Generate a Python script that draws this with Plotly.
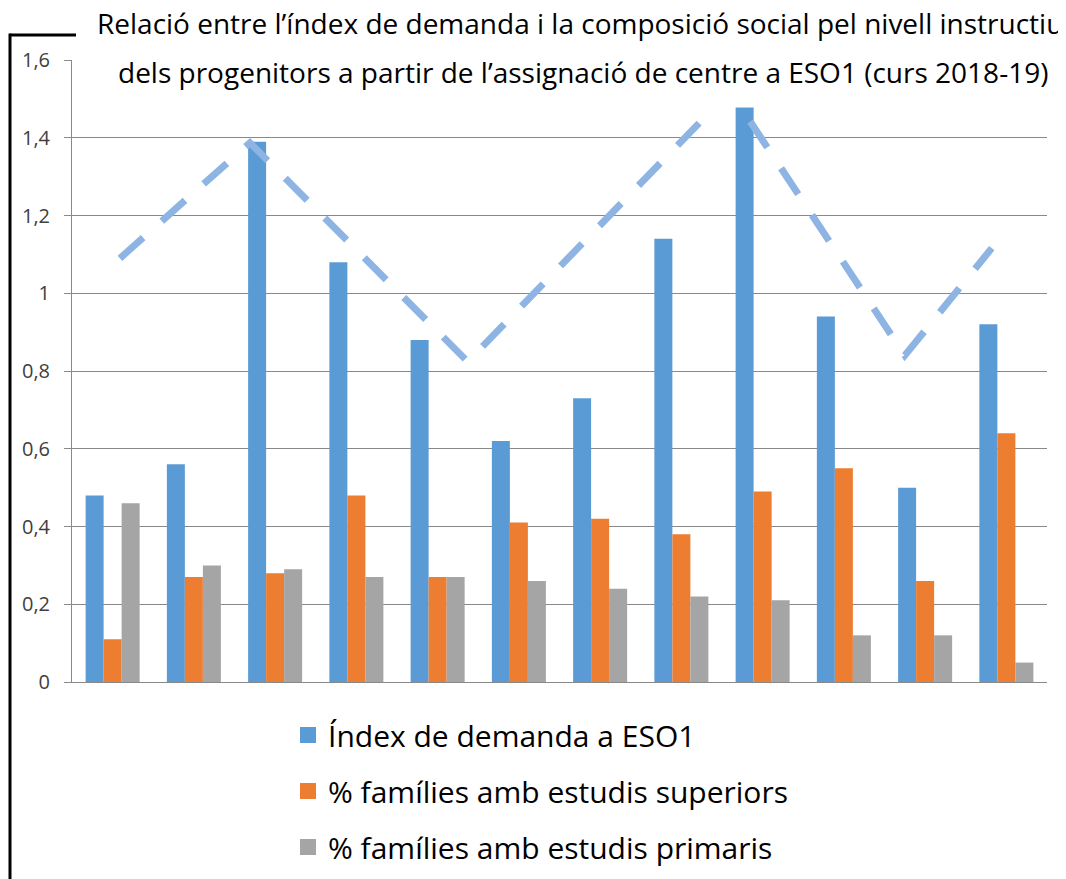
import plotly.graph_objects as go

# ---- data ----
groups = list(range(12))  # 12 unlabeled school groups
index_demanda = [0.48, 0.56, 1.39, 1.08, 0.88, 0.62, 0.73, 1.14, 1.48, 0.94, 0.50, 0.92]
fam_superiors = [0.11, 0.27, 0.28, 0.48, 0.27, 0.41, 0.42, 0.38, 0.49, 0.55, 0.26, 0.64]
fam_primaris = [0.46, 0.30, 0.29, 0.27, 0.27, 0.26, 0.24, 0.22, 0.21, 0.12, 0.12, 0.05]

# decorative dashed trend line (x in group-index units)
trend_x = [0.09, 1.69, 4.37, 7.60, 9.75, 10.82]
trend_y = [1.09, 1.387, 0.824, 1.52, 0.84, 1.116]

series_names = ["Índex de demanda a ESO1",
                "% famílies amb estudis superiors",
                "% famílies amb estudis primaris"]
series_colors = ["#5B9BD5", "#ED7D31", "#A5A5A5"]

y_tickvals = [0, 0.2, 0.4, 0.6, 0.8, 1.0, 1.2, 1.4, 1.6]
y_ticktext = ["0", "0,2", "0,4", "0,6", "0,8", "1", "1,2", "1,4", "1,6"]

title_line1 = "Relació entre l’índex de demanda i la composició social pel nivell instructiu"
title_line2 = "dels progenitors a partir de l’assignació de centre a ESO1 (curs 2018-19)"

# ---- layout geometry (page pixels; page body has an 8px margin) ----
OFF = 8
W, H = 1066 - OFF, 879 - OFF
PLOT_L, PLOT_R, PLOT_T, PLOT_B = 72, 1047, 60, 682
L, T = PLOT_L - OFF, PLOT_T - OFF
R = W - (PLOT_R - OFF)
B = H - (PLOT_B - OFF)
PW, PH = PLOT_R - PLOT_L, PLOT_B - PLOT_T


def px(xp):
    return (xp - PLOT_L) / PW


def py(yp):
    return (PLOT_B - yp) / PH


fig = go.Figure()
for name, vals, col, grp in zip(series_names,
                                [index_demanda, fam_superiors, fam_primaris],
                                series_colors, ["a", "b", "c"]):
    fig.add_trace(go.Bar(x=groups, y=vals, name=name, marker_color=col,
                         marker_line_width=0, legendgroup=grp, showlegend=False))
    # legend entry with a larger square swatch
    fig.add_trace(go.Scatter(x=[None], y=[None], mode="markers", name=name,
                             legendgroup=grp, showlegend=True,
                             marker=dict(symbol="square", size=18, color=col)))

fig.add_trace(go.Scatter(x=trend_x, y=trend_y, mode="lines", showlegend=False,
                         line=dict(color="#8EB4E3", width=7, dash="31px,25px"),
                         hoverinfo="skip"))

fig.update_layout(
    width=W, height=H,
    margin=dict(l=L, r=R, t=T, b=B, autoexpand=False),
    paper_bgcolor="white", plot_bgcolor="white",
    barmode="group", bargap=0.335, bargroupgap=0,
    separators=",.",
    font=dict(family="Open Sans", color="#000000"),
    showlegend=True,
    legend=dict(x=px(288), y=py(709), xanchor="left", yanchor="top",
                orientation="v", font=dict(size=30, color="#000000"),
                tracegroupgap=14, bgcolor="rgba(0,0,0,0)", itemsizing="trace"),
    xaxis=dict(range=[-0.5, 11.5], showticklabels=False, showgrid=False,
               zeroline=False, showline=True, linecolor="#898989", linewidth=1,
               ticks=""),
    yaxis=dict(range=[0, 1.6], tickvals=y_tickvals, ticktext=y_ticktext,
               showgrid=True, gridcolor="#898989", gridwidth=1,
               zeroline=False, showline=True, linecolor="#898989", linewidth=1,
               ticks="outside", ticklen=7, tickcolor="#898989",
               ticklabelstandoff=10,
               tickfont=dict(size=20, color="#404040", family="Open Sans")),
)

# white title box hiding the top gridline, and the partial outer frame
fig.add_shape(type="rect", xref="paper", yref="paper",
              x0=px(75), x1=px(1070), y0=py(107.5), y1=py(0),
              fillcolor="white", line_width=0, layer="above")
fig.add_shape(type="line", xref="paper", yref="paper",
              x0=px(10), x1=px(76), y0=py(35), y1=py(35),
              line=dict(color="black", width=3), layer="above")
fig.add_shape(type="line", xref="paper", yref="paper",
              x0=px(10), x1=px(10), y0=py(33.5), y1=py(890),
              line=dict(color="black", width=3), layer="above")

fig.add_annotation(text=title_line1, xref="paper", yref="paper",
                   x=px(580), y=py(23), xanchor="center", yanchor="middle",
                   showarrow=False, font=dict(size=28, color="#000000"))
fig.add_annotation(text=title_line2, xref="paper", yref="paper",
                   x=px(582.5), y=py(72), xanchor="center", yanchor="middle",
                   showarrow=False, font=dict(size=28, color="#000000"))

fig.write_html("out.html")
